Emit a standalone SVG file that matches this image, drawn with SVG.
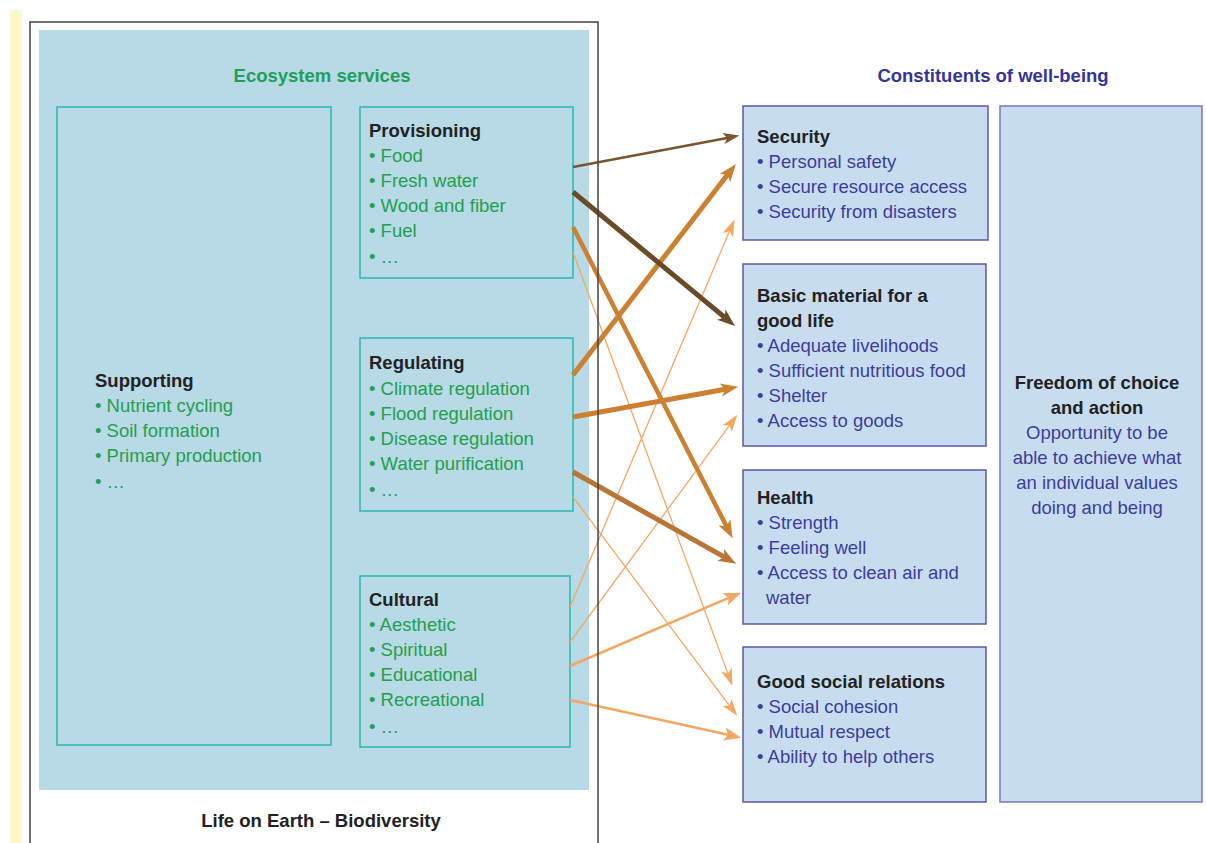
<svg xmlns="http://www.w3.org/2000/svg" width="1206" height="843" viewBox="0 0 1206 843">
<style>
text{font-family:"Liberation Sans",Arial,sans-serif;font-size:18.5px}
.h{font-weight:bold;fill:#222}
.g{fill:#22a04b}
.n{fill:#3c3c9c}
.gt{font-weight:bold;fill:#1fa05a}
.nt{font-weight:bold;fill:#34349a}
.es{fill:none;stroke:#2ab7b0;stroke-width:1.5}
.wb{fill:#c8dcf0;stroke:#5a5aaa;stroke-width:1.5}
.c{fill:none;stroke-linecap:butt}
</style>
<defs>
<marker id="mFood" markerUnits="userSpaceOnUse" orient="auto" markerWidth="20" markerHeight="20" refX="3" refY="0" viewBox="-1 -6 16 12" overflow="visible"><path d="M0,-4.5 L13,0 L0,4.5 L3,0 z" fill="#7a5530"/></marker>
<marker id="mDark" markerUnits="userSpaceOnUse" orient="auto" markerWidth="20" markerHeight="20" refX="4" refY="0" viewBox="-1 -7 18 14" overflow="visible"><path d="M0,-6 L16,0 L0,6 L4,0 z" fill="#6b4a28"/></marker>
<marker id="mOr" markerUnits="userSpaceOnUse" orient="auto" markerWidth="20" markerHeight="20" refX="4" refY="0" viewBox="-1 -7 18 14" overflow="visible"><path d="M0,-6 L16,0 L0,6 L4,0 z" fill="#cc8030"/></marker>
<marker id="mOr2" markerUnits="userSpaceOnUse" orient="auto" markerWidth="20" markerHeight="20" refX="4" refY="0" viewBox="-1 -7 18 14" overflow="visible"><path d="M0,-6 L16,0 L0,6 L4,0 z" fill="#b87535"/></marker>
<marker id="mLt" markerUnits="userSpaceOnUse" orient="auto" markerWidth="20" markerHeight="20" refX="3" refY="0" viewBox="-1 -5 14 10" overflow="visible"><path d="M0,-4 L12,0 L0,4 L3,0 z" fill="#f2a862"/></marker>
<marker id="mLt2" markerUnits="userSpaceOnUse" orient="auto" markerWidth="20" markerHeight="20" refX="3" refY="0" viewBox="-1 -6 15 12" overflow="visible"><path d="M0,-5 L13,0 L0,5 L3,0 z" fill="#f2a862"/></marker>
</defs>

<rect x="10" y="10" width="12" height="833" fill="#fff9c9"/>
<rect x="39" y="30" width="550" height="760" fill="#b8d9e6"/>

<g id="title-es"><text class="gt" x="322" y="82" text-anchor="middle">Ecosystem services</text></g>
<g id="title-wb"><text class="nt" x="993" y="82" text-anchor="middle">Constituents of well-being</text></g>

<g id="supporting">
<rect class="es" x="57" y="107" width="274" height="638"/>
<text class="h" x="95" y="387">Supporting</text>
<text class="g" x="95" y="412">• Nutrient cycling</text>
<text class="g" x="95" y="437">• Soil formation</text>
<text class="g" x="95" y="462">• Primary production</text>
<text class="g" x="95" y="488">• …</text>
</g>

<g id="provisioning">
<rect class="es" x="360" y="107" width="213" height="171"/>
<text class="h" x="369" y="137">Provisioning</text>
<text class="g" x="369" y="162">• Food</text>
<text class="g" x="369" y="187">• Fresh water</text>
<text class="g" x="369" y="212">• Wood and fiber</text>
<text class="g" x="369" y="237">• Fuel</text>
<text class="g" x="369" y="263">• …</text>
</g>

<g id="regulating">
<rect class="es" x="360" y="338" width="213" height="173"/>
<text class="h" x="369" y="369">Regulating</text>
<text class="g" x="369" y="395">• Climate regulation</text>
<text class="g" x="369" y="420">• Flood regulation</text>
<text class="g" x="369" y="445">• Disease regulation</text>
<text class="g" x="369" y="470">• Water purification</text>
<text class="g" x="369" y="496">• …</text>
</g>

<g id="cultural">
<rect class="es" x="360" y="576" width="210" height="171"/>
<text class="h" x="369" y="606">Cultural</text>
<text class="g" x="369" y="631">• Aesthetic</text>
<text class="g" x="369" y="656">• Spiritual</text>
<text class="g" x="369" y="681">• Educational</text>
<text class="g" x="369" y="706">• Recreational</text>
<text class="g" x="369" y="733">• …</text>
</g>

<g id="security">
<rect class="wb" x="743" y="106" width="245" height="134"/>
<text class="h" x="757" y="143">Security</text>
<text class="n" x="757" y="168">• Personal safety</text>
<text class="n" x="757" y="193">• Secure resource access</text>
<text class="n" x="757" y="218">• Security from disasters</text>
</g>

<g id="basic">
<rect class="wb" x="743" y="264" width="243" height="182"/>
<text class="h" x="757" y="302">Basic material for a</text>
<text class="h" x="757" y="327">good life</text>
<text class="n" x="757" y="352">• Adequate livelihoods</text>
<text class="n" x="757" y="377">• Sufficient nutritious food</text>
<text class="n" x="757" y="402">• Shelter</text>
<text class="n" x="757" y="427">• Access to goods</text>
</g>

<g id="health">
<rect class="wb" x="743" y="470" width="243" height="154"/>
<text class="h" x="757" y="504">Health</text>
<text class="n" x="757" y="529">• Strength</text>
<text class="n" x="757" y="554">• Feeling well</text>
<text class="n" x="757" y="579">• Access to clean air and</text>
<text class="n" x="766" y="604">water</text>
</g>

<g id="social">
<rect class="wb" x="743" y="647" width="243" height="155"/>
<text class="h" x="757" y="688">Good social relations</text>
<text class="n" x="757" y="713">• Social cohesion</text>
<text class="n" x="757" y="738">• Mutual respect</text>
<text class="n" x="757" y="763">• Ability to help others</text>
</g>

<g id="freedom">
<rect x="1000" y="106" width="202" height="696" fill="#c8dcf0" stroke="#7a7ab8" stroke-width="1.5"/>
<text class="h" x="1097" y="389" text-anchor="middle">Freedom of choice</text>
<text class="h" x="1097" y="414" text-anchor="middle">and action</text>
<text class="n" x="1097" y="439" text-anchor="middle">Opportunity to be</text>
<text class="n" x="1097" y="464" text-anchor="middle">able to achieve what</text>
<text class="n" x="1097" y="489" text-anchor="middle">an individual values</text>
<text class="n" x="1097" y="514" text-anchor="middle">doing and being</text>
</g>

<g id="connectors">
<line class="c" x1="573" y1="252" x2="727.9" y2="673.6" stroke="#f2a862" stroke-width="1.3" marker-end="url(#mLt)"/>
<line class="c" x1="573" y1="497" x2="729.6" y2="705.8" stroke="#f2a862" stroke-width="1.3" marker-end="url(#mLt)"/>
<line class="c" x1="570" y1="607" x2="729.5" y2="231.3" stroke="#f2a862" stroke-width="1.3" marker-end="url(#mLt)"/>
<line class="c" x1="570" y1="642" x2="729.7" y2="425.2" stroke="#f2a862" stroke-width="1.3" marker-end="url(#mLt)"/>
<line class="c" x1="570" y1="666" x2="728.8" y2="597.9" stroke="#f2a862" stroke-width="2.5" marker-end="url(#mLt2)"/>
<line class="c" x1="570" y1="700" x2="728.2" y2="734.8" stroke="#f2a862" stroke-width="2.5" marker-end="url(#mLt2)"/>
<line class="c" x1="573" y1="167" x2="727.2" y2="137.9" stroke="#7a5530" stroke-width="2.5" marker-end="url(#mFood)"/>
<line class="c" x1="573" y1="227" x2="726.5" y2="526.3" stroke="#cc8030" stroke-width="4.5" marker-end="url(#mOr)"/>
<line class="c" x1="573" y1="375" x2="727.7" y2="174.5" stroke="#cc8030" stroke-width="5" marker-end="url(#mOr)"/>
<line class="c" x1="573" y1="417" x2="725.2" y2="389.2" stroke="#cc8030" stroke-width="5" marker-end="url(#mOr)"/>
<line class="c" x1="573" y1="472" x2="724.5" y2="557.1" stroke="#b87535" stroke-width="5" marker-end="url(#mOr2)"/>
<line class="c" x1="573" y1="192" x2="724.7" y2="317.4" stroke="#6b4a28" stroke-width="5" marker-end="url(#mDark)"/>
</g>

<path d="M30,843 V22 H598 V843" fill="none" stroke="#444" stroke-width="1.5"/>
<g id="footer"><text class="h" x="321" y="827" text-anchor="middle">Life on Earth – Biodiversity</text></g>
</svg>
